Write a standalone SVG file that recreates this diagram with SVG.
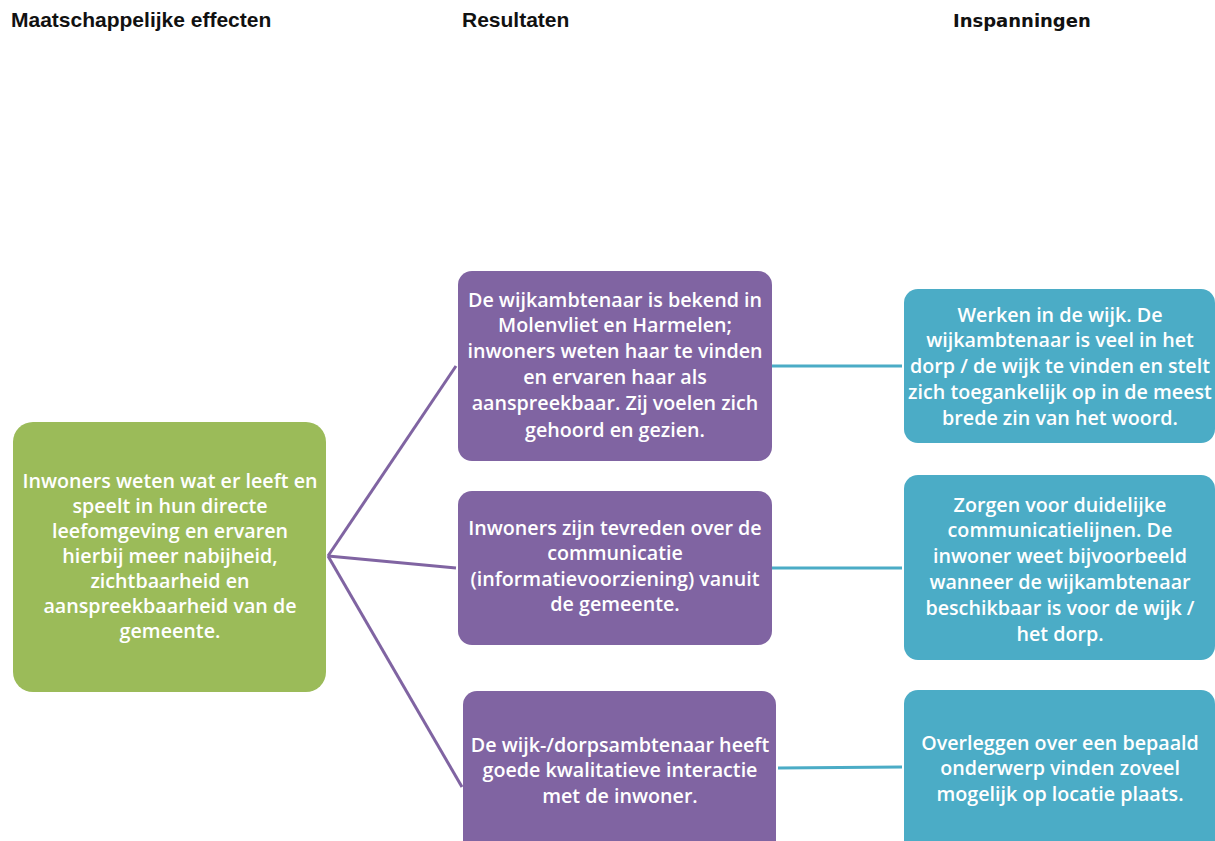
<svg xmlns="http://www.w3.org/2000/svg" width="1215" height="841" viewBox="0 0 1215 841">
<style>
.hdr{font-family:"Liberation Sans",Arial,sans-serif;font-weight:bold;font-size:21px;fill:#111}
.hdr2{font-family:"DejaVu Sans",Verdana,sans-serif;font-weight:bold;font-size:18px;fill:#111}
.t{font-family:"Open Sans","Noto Sans",sans-serif;font-size:19.7px;font-weight:600;fill:#fff;text-anchor:middle}
.g{fill:#9BBB59}
.p{fill:#8064A2}
.c{fill:#4BACC6}
.lp{stroke:#8064A2;stroke-width:3;fill:none}
.lc{stroke:#4BACC6;stroke-width:3;fill:none}
</style>
<rect width="1215" height="841" fill="#fff"/>
<text class="hdr" x="11" y="27">Maatschappelijke effecten</text>
<text class="hdr" x="462" y="27">Resultaten</text>
<text class="hdr2" x="953" y="27">Inspanningen</text>
<g id="connectors">
<line class="lp" x1="328" y1="556" x2="456" y2="366"/>
<line class="lp" x1="328" y1="556" x2="456" y2="568"/>
<line class="lp" x1="328" y1="556" x2="462" y2="787"/>
<line class="lc" x1="772" y1="366" x2="902" y2="366"/>
<line class="lc" x1="772" y1="568" x2="902" y2="568"/>
<line class="lc" x1="778" y1="768" x2="902" y2="767"/>
</g>
<g id="effect">
<rect class="g" x="13" y="422" width="313" height="270" rx="20"/>
<text class="t"><tspan x="170" y="488">Inwoners weten wat er leeft en</tspan><tspan x="170" y="513">speelt in hun directe</tspan><tspan x="170" y="538">leefomgeving en ervaren</tspan><tspan x="170" y="563">hierbij meer nabijheid,</tspan><tspan x="170" y="588">zichtbaarheid en</tspan><tspan x="170" y="613">aanspreekbaarheid van de</tspan><tspan x="170" y="638">gemeente.</tspan></text>
</g>
<g id="result1">
<rect class="p" x="458" y="271" width="314" height="190" rx="14"/>
<text class="t"><tspan x="615" y="307">De wijkambtenaar is bekend in</tspan><tspan x="615" y="332">Molenvliet en Harmelen;</tspan><tspan x="615" y="358">inwoners weten haar te vinden</tspan><tspan x="615" y="384">en ervaren haar als</tspan><tspan x="615" y="410">aanspreekbaar. Zij voelen zich</tspan><tspan x="615" y="437">gehoord en gezien.</tspan></text>
</g>
<g id="result2">
<rect class="p" x="458" y="491" width="314" height="154" rx="14"/>
<text class="t"><tspan x="615" y="535">Inwoners zijn tevreden over de</tspan><tspan x="615" y="560">communicatie</tspan><tspan x="615" y="586">(informatievoorziening) vanuit</tspan><tspan x="615" y="611">de gemeente.</tspan></text>
</g>
<g id="result3">
<rect class="p" x="463" y="691" width="313" height="170" rx="14"/>
<text class="t"><tspan x="620" y="752">De wijk-/dorpsambtenaar heeft</tspan><tspan x="620" y="777">goede kwalitatieve interactie</tspan><tspan x="620" y="803">met de inwoner.</tspan></text>
</g>
<g id="effort1">
<rect class="c" x="904" y="289" width="311" height="154" rx="14"/>
<text class="t"><tspan x="1060" y="322">Werken in de wijk. De</tspan><tspan x="1060" y="347">wijkambtenaar is veel in het</tspan><tspan x="1060" y="373">dorp / de wijk te vinden en stelt</tspan><tspan x="1060" y="399">zich toegankelijk op in de meest</tspan><tspan x="1060" y="425">brede zin van het woord.</tspan></text>
</g>
<g id="effort2">
<rect class="c" x="904" y="475" width="311" height="185" rx="14"/>
<text class="t"><tspan x="1060" y="512">Zorgen voor duidelijke</tspan><tspan x="1060" y="537">communicatielijnen. De</tspan><tspan x="1060" y="563">inwoner weet bijvoorbeeld</tspan><tspan x="1060" y="589">wanneer de wijkambtenaar</tspan><tspan x="1060" y="615">beschikbaar is voor de wijk /</tspan><tspan x="1060" y="641">het dorp.</tspan></text>
</g>
<g id="effort3">
<rect class="c" x="904" y="690" width="311" height="170" rx="14"/>
<text class="t"><tspan x="1060" y="750">Overleggen over een bepaald</tspan><tspan x="1060" y="775">onderwerp vinden zoveel</tspan><tspan x="1060" y="801">mogelijk op locatie plaats.</tspan></text>
</g>
</svg>
